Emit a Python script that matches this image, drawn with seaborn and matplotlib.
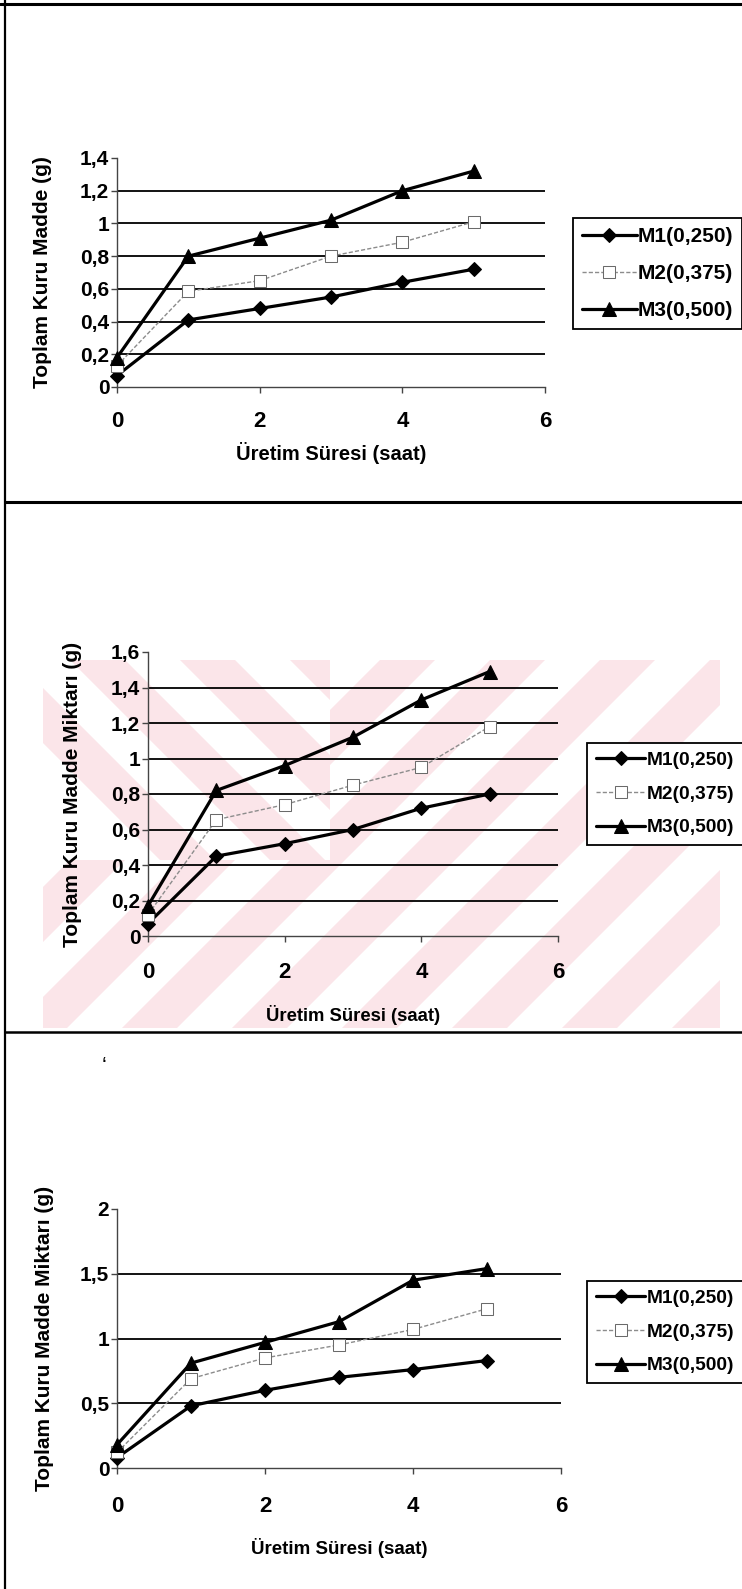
import matplotlib
matplotlib.use("Agg")
import matplotlib.pyplot as plt
import seaborn as sns
from matplotlib.lines import Line2D
from matplotlib.patches import Polygon

# ---------------- data ----------------
hours = [0, 1, 2, 3, 4, 5]
series = ["M1(0,250)", "M2(0,375)", "M3(0,500)"]

c1_m1 = [0.07, 0.41, 0.48, 0.55, 0.64, 0.72]
c1_m2 = [0.13, 0.585, 0.65, 0.80, 0.885, 1.01]
c1_m3 = [0.18, 0.80, 0.91, 1.02, 1.20, 1.32]

c2_m1 = [0.07, 0.45, 0.52, 0.60, 0.72, 0.80]
c2_m2 = [0.12, 0.655, 0.74, 0.85, 0.95, 1.18]
c2_m3 = [0.17, 0.82, 0.96, 1.12, 1.33, 1.49]

c3_m1 = [0.08, 0.48, 0.60, 0.70, 0.76, 0.83]
c3_m2 = [0.12, 0.69, 0.85, 0.95, 1.07, 1.23]
c3_m3 = [0.18, 0.81, 0.97, 1.13, 1.45, 1.54]

x_ticks = [0, 2, 4, 6]
x_tick_labels = ["0", "2", "4", "6"]
y1_ticks = [0, 0.2, 0.4, 0.6, 0.8, 1.0, 1.2, 1.4]
y1_labels = ["0", "0,2", "0,4", "0,6", "0,8", "1", "1,2", "1,4"]
y2_ticks = [0, 0.2, 0.4, 0.6, 0.8, 1.0, 1.2, 1.4, 1.6]
y2_labels = ["0", "0,2", "0,4", "0,6", "0,8", "1", "1,2", "1,4", "1,6"]
y3_ticks = [0, 0.5, 1.0, 1.5, 2.0]
y3_labels = ["0", "0,5", "1", "1,5", "2"]

x_label = "Üretim Süresi (saat)"
y_label_1 = "Toplam Kuru Madde (g)"
y_label_2 = "Toplam Kuru Madde Miktarı (g)"
y_label_3 = "Toplam Kuru Madde Miktarı (g)"

# ---------------- style ----------------
sns.set_theme(style="white")
plt.rcParams["font.family"] = ["Liberation Sans", "DejaVu Sans"]
NARROW = ["Liberation Sans Narrow", "DejaVu Sans Condensed", "Liberation Sans", "DejaVu Sans"]
WIDE = ["Liberation Sans", "DejaVu Sans"]

W, H = 742, 1589
fig = plt.figure(figsize=(W / 100, H / 100), dpi=100)
fig.patch.set_facecolor("white")


def fx(x):
    return x / W


def fy(y):
    return 1 - y / H


def fig_poly(pts, **kw):
    p = Polygon([(fx(a), fy(b)) for a, b in pts], closed=True,
                transform=fig.transFigure, **kw)
    fig.add_artist(p)
    return p


# ---- faint pink watermark (behind chart 2) ----
wm_color = "#fbe5e9"
left_clip = fig_poly([(43, 660), (330, 660), (330, 860), (43, 860)],
                     facecolor="none", edgecolor="none")
right_clip = fig_poly([(43, 860), (330, 860), (330, 660), (720, 660), (720, 1028), (43, 1028)],
                      facecolor="none", edgecolor="none")
period, width = 110, 55
for c in range(-700, 1800, period):          # "\" stripes
    p = fig_poly([(c + 600, 600), (c + width + 600, 600), (c + width + 1100, 1100), (c + 1100, 1100)],
                 facecolor=wm_color, edgecolor="none", zorder=-5)
    p.set_clip_path(left_clip)
for c in range(600, 2300, period):           # "/" stripes
    p = fig_poly([(c - 600, 600), (c + width - 600, 600), (c + width - 1100, 1100), (c - 1100, 1100)],
                 facecolor=wm_color, edgecolor="none", zorder=-5)
    p.set_clip_path(right_clip)

# ---- page frame / separators ----
for (x0, y0, x1, y1, lw) in [(0, 4, 742, 4, 2.2), (5, 0, 5, 1589, 1.6),
                             (5, 502, 742, 502, 2.2), (5, 1032, 742, 1032, 1.8)]:
    fig.add_artist(Line2D([fx(x0), fx(x1)], [fy(y0), fy(y1)], color="black", lw=lw,
                          transform=fig.transFigure))

fig.text(fx(104), fy(1066), "‘", fontsize=16, color="black", ha="center", va="center")

styles = {
    "M1(0,250)": dict(color="black", linewidth=2.3, marker="D", markersize=7.5,
                      markerfacecolor="black", markeredgecolor="black", linestyle="-"),
    "M2(0,375)": dict(color="#8c8c8c", linewidth=1.0, marker="s", markersize=8.5,
                      markerfacecolor="white", markeredgecolor="#6a6a6a", linestyle=(0, (3, 1.5))),
    "M3(0,500)": dict(color="black", linewidth=2.3, marker="^", markersize=10,
                      markerfacecolor="black", markeredgecolor="black", linestyle="-"),
}

charts = [
    dict(box=(117, 545, 158, 387), ylim=1.4, yt=y1_ticks, yl=y1_labels, ylab=y_label_1,
         data=[c1_m1, c1_m2, c1_m3], leg=(573, 218), leg_fs=15, xt_y=422, xl_y=453,
         xl_fs=14.5, yl_x=43),
    dict(box=(148, 558, 652, 936), ylim=1.6, yt=y2_ticks, yl=y2_labels, ylab=y_label_2,
         data=[c2_m1, c2_m2, c2_m3], leg=(587, 743), leg_fs=13.8, xt_y=973, xl_y=1015,
         xl_fs=13.3, yl_x=73),
    dict(box=(117, 561, 1209, 1468), ylim=2.0, yt=y3_ticks, yl=y3_labels, ylab=y_label_3,
         data=[c3_m1, c3_m2, c3_m3], leg=(587, 1281), leg_fs=13.8, xt_y=1507, xl_y=1548,
         xl_fs=13.5, yl_x=45),
]

XT_FS = 16
YT_FS = 15
TICK_LEN = 4

for ch in charts:
    l, r, t, b = ch["box"]
    ax = fig.add_axes([fx(l), fy(b), (r - l) / W, (b - t) / H])
    ax.patch.set_alpha(0)
    handles = []
    for name, vals in zip(series, ch["data"]):
        sns.lineplot(x=hours, y=vals, ax=ax, legend=False, zorder=5, clip_on=False,
                     **styles[name])
        handles.append(ax.get_lines()[-1])
    for yv in ch["yt"][1:-1]:
        ax.axhline(yv, color="black", lw=1.3, zorder=1)
    ax.set_xlim(0, 6)
    ax.set_ylim(0, ch["ylim"])
    ax.set_xticks(x_ticks)
    ax.set_xticklabels(x_tick_labels)
    ax.set_yticks(ch["yt"])
    ax.set_yticklabels(ch["yl"])
    for side in ["top", "right"]:
        ax.spines[side].set_visible(False)
    for side in ["left", "bottom"]:
        ax.spines[side].set_color("#444444")
        ax.spines[side].set_linewidth(1.0)
    ax.tick_params(axis="both", direction="out", length=TICK_LEN, width=1.0, color="#444444",
                   left=True, bottom=True)
    size_px = XT_FS / 0.72
    pad_px = ch["xt_y"] - b - TICK_LEN - 0.58 * size_px
    ax.tick_params(axis="x", pad=pad_px * 0.72)
    ax.tick_params(axis="y", pad=1.5)
    for lab in ax.get_xticklabels():
        lab.set_fontfamily(NARROW)
        lab.set_fontweight("bold")
        lab.set_fontsize(XT_FS)
        lab.set_color("black")
    for lab in ax.get_yticklabels():
        lab.set_fontfamily(NARROW)
        lab.set_fontweight("bold")
        lab.set_fontsize(YT_FS)
        lab.set_color("black")
    ax.set_xlabel(x_label, fontsize=ch["xl_fs"], fontweight="bold", family=NARROW,
                  color="black", va="center")
    ax.xaxis.set_label_coords(0.5, -(ch["xl_y"] - b) / (b - t))
    ax.set_ylabel(ch["ylab"], fontsize=15, fontweight="bold", family=WIDE, color="black",
                  va="center")
    ax.yaxis.set_label_coords(-(l - ch["yl_x"]) / (r - l), 0.5)

    lx, ly = ch["leg"]
    leg = ax.legend(handles, series, loc="upper left", bbox_to_anchor=(fx(lx), fy(ly)),
                    bbox_transform=fig.transFigure, frameon=True, fancybox=False,
                    edgecolor="black", framealpha=1, borderpad=0.45, labelspacing=0.85,
                    handlelength=2.6, handletextpad=0.05, borderaxespad=0,
                    prop=dict(family=NARROW, weight="bold", size=ch["leg_fs"]))
    leg.get_frame().set_linewidth(1.3)
    for txt in leg.get_texts():
        txt.set_color("black")

fig.savefig("out.png", dpi=100, facecolor="white")
